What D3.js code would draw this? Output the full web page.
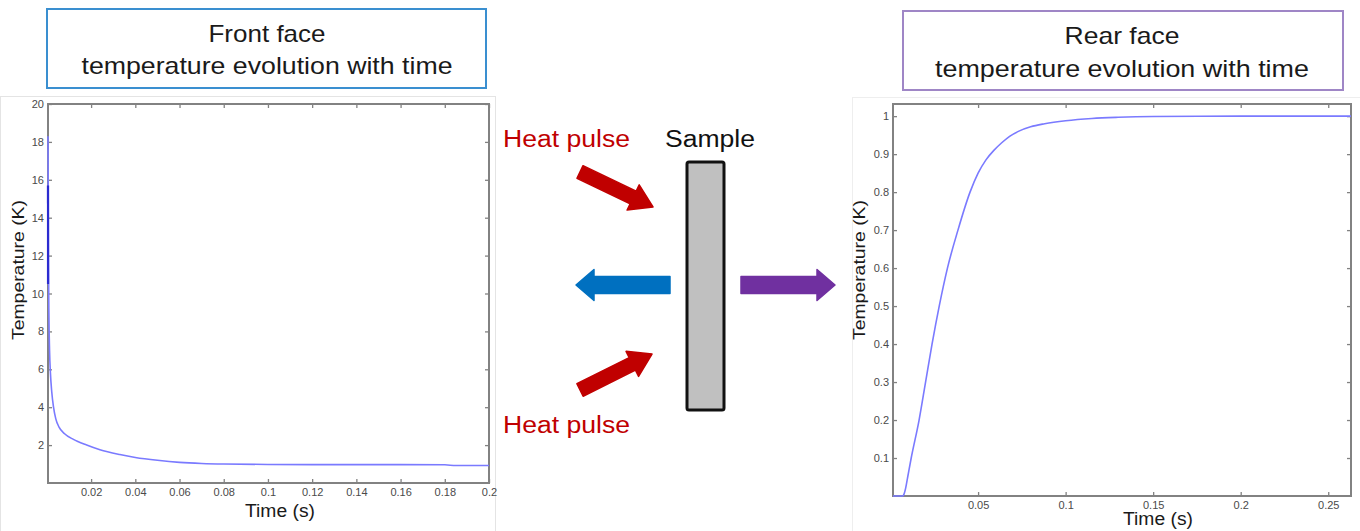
<!DOCTYPE html>
<html>
<head>
<meta charset="utf-8">
<script src="https://cdn.jsdelivr.net/npm/d3@7"></script>
<style>
  html, body { margin: 0; padding: 0; background: #ffffff; }
  svg { display: block; }
  text { font-family: Arial, "Liberation Sans", sans-serif; }
</style>
</head>
<body>
<svg id="chart" width="1360" height="531"></svg>
<script>
// ---------------- DATA ----------------
// Front face temperature (K) vs time (s)
const frontTime = [0.0005, 0.0007, 0.0009, 0.0012, 0.0016, 0.0022, 0.003, 0.004, 0.0055, 0.008, 0.012, 0.018, 0.024, 0.033, 0.04, 0.05, 0.06, 0.07, 0.08, 0.1, 0.12, 0.14, 0.16, 0.18, 0.185, 0.2];
const frontTemp = [18.3, 12.0, 9.0, 7.0, 5.8, 4.8, 4.0, 3.4, 2.95, 2.6, 2.3, 2.0, 1.75, 1.5, 1.35, 1.2, 1.09, 1.03, 1.0, 0.98, 0.97, 0.97, 0.97, 0.96, 0.92, 0.92];
// Darker overlapping part of the initial spike
const frontSpikeTime = [0.0005, 0.00052];
const frontSpikeTemp = [15.7, 10.5];
// Rear face temperature (K) vs time (s)
const rearTime = [0.0014, 0.005, 0.007, 0.0077, 0.0086, 0.0098, 0.0118, 0.0163, 0.02, 0.0237, 0.0278, 0.0325, 0.0385, 0.0454, 0.05, 0.0545, 0.059, 0.0635, 0.068, 0.073, 0.08, 0.088, 0.1, 0.115, 0.13, 0.15, 0.2, 0.263];
const rearTemp = [0, 0, 0, 0.005, 0.02, 0.05, 0.1, 0.2, 0.3, 0.4, 0.5, 0.6, 0.7, 0.8, 0.85, 0.885, 0.91, 0.93, 0.947, 0.96, 0.972, 0.98, 0.988, 0.994, 0.997, 0.999, 1.0, 1.0];

// Ticks
const frontXTicks = [0.02, 0.04, 0.06, 0.08, 0.1, 0.12, 0.14, 0.16, 0.18, 0.2];
const frontYTicks = [2, 4, 6, 8, 10, 12, 14, 16, 18, 20];
const rearXTicks = [0.05, 0.1, 0.15, 0.2, 0.25];
const rearYTicks = [0.1, 0.2, 0.3, 0.4, 0.5, 0.6, 0.7, 0.8, 0.9, 1];

// Text
const frontTitle = ["Front face", "temperature evolution with time"];
const rearTitle = ["Rear face", "temperature evolution with time"];
const xLabel = "Time (s)";
const yLabel = "Temperature (K)";
const pulseLabel = "Heat pulse";
const sampleLabel = "Sample";

// ---------------- DRAWING ----------------
const svg = d3.select("#chart");
const axisColor = "#828282";
const lineColor = "#7a7aff";
const fmt = d => String(d);

// faint figure panels
svg.append("rect").attr("x", 0.5).attr("y", 96.5).attr("width", 495).attr("height", 440)
  .attr("fill", "none").attr("stroke", "#e4e4e4").attr("stroke-width", 1);
svg.append("rect").attr("x", 852.5).attr("y", 97.5).attr("width", 520).attr("height", 440)
  .attr("fill", "none").attr("stroke", "#eeeeee").attr("stroke-width", 1);

function titleBox(x, y, w, h, color, lines, cx, b1, b2, len1, len2) {
  svg.append("rect").attr("x", x).attr("y", y).attr("width", w).attr("height", h)
    .attr("fill", "#fff").attr("stroke", color).attr("stroke-width", 2);
  svg.append("text").attr("x", cx).attr("y", b1).attr("text-anchor", "middle")
    .attr("font-size", 24).attr("fill", "#1a1a1a")
    .attr("textLength", len1).attr("lengthAdjust", "spacingAndGlyphs").text(lines[0]);
  svg.append("text").attr("x", cx).attr("y", b2).attr("text-anchor", "middle")
    .attr("font-size", 24).attr("fill", "#1a1a1a")
    .attr("textLength", len2).attr("lengthAdjust", "spacingAndGlyphs").text(lines[1]);
}
titleBox(47, 9, 439, 79, "#3a8fd0", frontTitle, 267, 42, 74, 117, 371);
titleBox(903, 11, 440, 79, "#9f86c6", rearTitle, 1122, 44, 77, 115, 374);

function plot(opts) {
  const {x0, x1, y0, y1, xDom, yDom, xTicks, yTicks, series, xLabelPos, yLabelPos} = opts;
  const x = d3.scaleLinear().domain(xDom).range([x0, x1]);
  const y = d3.scaleLinear().domain(yDom).range([y1, y0]);
  const g = svg.append("g");

  const styleAxis = sel => {
    sel.select(".domain").remove();
    sel.selectAll(".tick line").attr("stroke", axisColor).attr("stroke-width", 1.3);
    sel.selectAll(".tick text").attr("fill", "#4a4a4a").attr("font-size", 11)
      .attr("font-family", "Arial, 'Liberation Sans', sans-serif");
  };
  // bottom
  g.append("g").attr("transform", `translate(0,${y1})`)
    .call(d3.axisBottom(x).tickValues(xTicks).tickFormat(fmt).tickSizeInner(-4).tickSizeOuter(0).tickPadding(5))
    .call(styleAxis);
  // top (mirrored ticks)
  g.append("g").attr("transform", `translate(0,${y0})`)
    .call(d3.axisTop(x).tickValues(xTicks).tickFormat("").tickSizeInner(-4).tickSizeOuter(0))
    .call(styleAxis);
  // left
  g.append("g").attr("transform", `translate(${x0},0)`)
    .call(d3.axisLeft(y).tickValues(yTicks).tickFormat(fmt).tickSizeInner(-4).tickSizeOuter(0).tickPadding(4))
    .call(styleAxis);
  // right (mirrored ticks)
  g.append("g").attr("transform", `translate(${x1},0)`)
    .call(d3.axisRight(y).tickValues(yTicks).tickFormat("").tickSizeInner(-4).tickSizeOuter(0))
    .call(styleAxis);

  // box
  g.append("rect").attr("x", x0).attr("y", y0).attr("width", x1 - x0).attr("height", y1 - y0)
    .attr("fill", "none").attr("stroke", axisColor).attr("stroke-width", 2);

  // series (drawn over the box, as in the reference)
  series.forEach(s => {
    const line = d3.line().x(d => x(d[0])).y(d => y(d[1])).curve(d3.curveMonotoneX);
    g.append("path").datum(s.t.map((t, i) => [t, s.v[i]]))
      .attr("d", line).attr("fill", "none").attr("stroke", s.color)
      .attr("stroke-width", s.width);
  });

  // labels
  g.append("text").attr("x", xLabelPos[0]).attr("y", xLabelPos[1]).attr("text-anchor", "middle")
    .attr("font-size", 18).attr("fill", "#1a1a1a")
    .attr("textLength", 70).attr("lengthAdjust", "spacingAndGlyphs").text(xLabel);
  g.append("text").attr("transform", `translate(${yLabelPos[0]},${yLabelPos[1]}) rotate(-90)`)
    .attr("text-anchor", "middle").attr("font-size", 17).attr("fill", "#1a1a1a")
    .attr("textLength", 140).attr("lengthAdjust", "spacingAndGlyphs").text(yLabel);
}

plot({
  x0: 48, x1: 489, y0: 104, y1: 483,
  xDom: [0.0005, 0.2], yDom: [0, 20],
  xTicks: frontXTicks, yTicks: frontYTicks,
  series: [
    {t: frontTime, v: frontTemp, color: lineColor, width: 1.6},
    {t: frontSpikeTime, v: frontSpikeTemp, color: "#2b2bd0", width: 2.2}
  ],
  xLabelPos: [280, 517], yLabelPos: [24, 270]
});

plot({
  x0: 893, x1: 1351, y0: 104, y1: 496,
  xDom: [0.0014, 0.263], yDom: [0, 1.032],
  xTicks: rearXTicks, yTicks: rearYTicks,
  series: [{t: rearTime, v: rearTemp, color: lineColor, width: 1.6}],
  xLabelPos: [1158, 525], yLabelPos: [865, 270]
});

// ---------------- DIAGRAM ----------------
function arrow(x1, y1, x2, y2, shaftW, headW, headL, color) {
  const dx = x2 - x1, dy = y2 - y1;
  const L = Math.hypot(dx, dy);
  const ang = Math.atan2(dy, dx) * 180 / Math.PI;
  const s = shaftW / 2, h = headW / 2, b = L - headL;
  const pts = [[0, -s], [b, -s], [b, -h], [L, 0], [b, h], [b, s], [0, s]];
  svg.append("polygon")
    .attr("points", pts.map(p => p.join(",")).join(" "))
    .attr("transform", `translate(${x1},${y1}) rotate(${ang})`)
    .attr("fill", color).attr("stroke", color).attr("stroke-width", 1.5)
    .attr("stroke-linejoin", "round");
}

svg.append("text").attr("x", 503).attr("y", 147).attr("font-size", 23).attr("fill", "#c00000")
  .attr("textLength", 127).attr("lengthAdjust", "spacingAndGlyphs").text(pulseLabel);
svg.append("text").attr("x", 503).attr("y", 433).attr("font-size", 23).attr("fill", "#c00000")
  .attr("textLength", 127).attr("lengthAdjust", "spacingAndGlyphs").text(pulseLabel);
svg.append("text").attr("x", 665).attr("y", 147).attr("font-size", 23).attr("fill", "#111")
  .attr("textLength", 90).attr("lengthAdjust", "spacingAndGlyphs").text(sampleLabel);

svg.append("rect").attr("x", 687).attr("y", 162).attr("width", 37).attr("height", 248)
  .attr("rx", 2).attr("fill", "#c0c0c0").attr("stroke", "#111").attr("stroke-width", 3);

arrow(580, 172, 653, 207, 14, 28, 22, "#c00000");
arrow(580, 390, 652, 354, 14, 28, 22, "#c00000");
arrow(670, 285, 576, 285, 17, 31, 18, "#0070c0");
arrow(741, 285, 835, 285, 17, 31, 18, "#7030a0");
</script>
</body>
</html>
